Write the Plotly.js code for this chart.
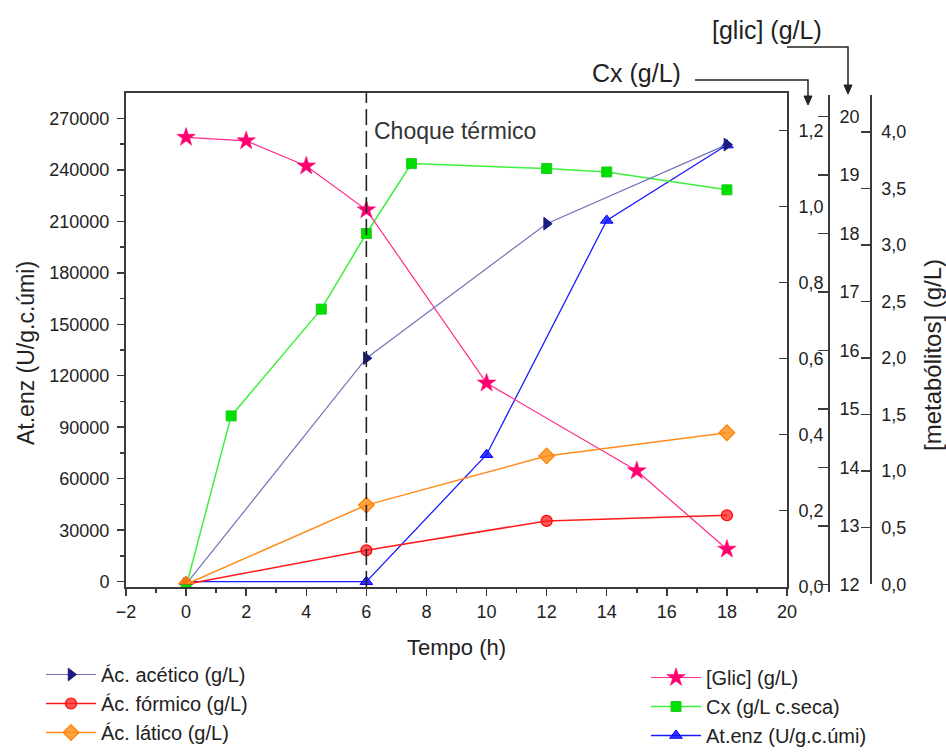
<!DOCTYPE html>
<html>
<head>
<meta charset="utf-8">
<script src="https://cdn.plot.ly/plotly-3.0.1.min.js"></script>
<style>html,body{margin:0;padding:0;background:#fff;overflow:hidden;}#chart{width:946px;height:753px;}</style>
</head>
<body>
<div id="chart"></div>
<script>
// ---------------- data ----------------
const tempoAcidos = [0, 6, 12, 18];
const acetico = [0, 2.0, 3.19, 3.89];
const formico = [0, 0.30, 0.56, 0.61];
const latico = [0, 0.70, 1.135, 1.34];

const tempoGlic = [0, 2, 4, 6, 10, 15, 18];
const glic = [19.64, 19.58, 19.15, 18.40, 15.44, 13.94, 12.60];

const tempoCx = [0, 1.5, 4.5, 6, 7.5, 12, 14, 18];
const cx = [0, 0.449, 0.730, 0.929, 1.113, 1.100, 1.091, 1.044];

const tempoEnz = [0, 6, 10, 14, 18];
const atEnz = [0, 0, 74000, 210500, 254400];

const enzTicks = [0, 30000, 60000, 90000, 120000, 150000, 180000, 210000, 240000, 270000];
const enzTickText = ["0", "30000", "60000", "90000", "120000", "150000", "180000", "210000", "240000", "270000"];
const cxTicks = [0, 0.2, 0.4, 0.6, 0.8, 1.0, 1.2];
const cxTickText = ["0,0", "0,2", "0,4", "0,6", "0,8", "1,0", "1,2"];
const glicTicks = [12, 13, 14, 15, 16, 17, 18, 19, 20];
const glicTickText = ["12", "13", "14", "15", "16", "17", "18", "19", "20"];
const metTicks = [0, 0.5, 1.0, 1.5, 2.0, 2.5, 3.0, 3.5, 4.0];
const metTickText = ["0,0", "0,5", "1,0", "1,5", "2,0", "2,5", "3,0", "3,5", "4,0"];
const xTicks = [-2, 0, 2, 4, 6, 8, 10, 12, 14, 16, 18, 20];

const choqueTempo = 6;

// ---------------- layout helpers ----------------
const W = 946, H = 753;
const px = x => x / W;
const py = y => 1 - y / H;
const P = (x, y) => px(x) + ',' + py(y);

const FONT = 'Liberation Sans, Arial, sans-serif';
const AX = '#3a3a3a';
const TXT = '#222';

const traces = [
  {x: tempoAcidos, y: acetico, name: 'Ác. acético (g/L)', yaxis: 'y4', type: 'scatter', mode: 'lines+markers',
   line: {color: '#7474b8', width: 1.2}, marker: {symbol: 'triangle-right', size: 11, color: '#1a1a80', line: {color: '#1a1a80', width: 1}},
   legend: 'legend'},
  {x: tempoAcidos, y: formico, name: 'Ác. fórmico (g/L)', yaxis: 'y4', type: 'scatter', mode: 'lines+markers',
   line: {color: '#ff1a1a', width: 1.5}, marker: {symbol: 'circle', size: 11, color: 'rgba(255,30,30,0.75)', line: {color: '#ff0000', width: 1.2}},
   legend: 'legend'},
  {x: tempoAcidos, y: latico, name: 'Ác. lático (g/L)', yaxis: 'y4', type: 'scatter', mode: 'lines+markers',
   line: {color: '#ff8c1a', width: 1.5}, marker: {symbol: 'diamond', size: 12, color: 'rgba(255,140,20,0.8)', line: {color: '#ff8000', width: 1.2}},
   legend: 'legend'},
  {x: tempoGlic, y: glic, name: '[Glic] (g/L)', yaxis: 'y3', type: 'scatter', mode: 'lines+markers',
   line: {color: '#ff2a8a', width: 1.2}, marker: {symbol: 'star', size: 14, color: '#ff0070', line: {color: '#ff0070', width: 0.5}},
   legend: 'legend2'},
  {x: tempoCx, y: cx, name: 'Cx (g/L c.seca)', yaxis: 'y2', type: 'scatter', mode: 'lines+markers',
   line: {color: '#3ef03e', width: 1.5}, marker: {symbol: 'square', size: 10, color: '#00e000', line: {color: '#22cc22', width: 1}},
   legend: 'legend2'},
  {x: tempoEnz, y: atEnz, name: 'At.enz (U/g.c.úmi)', yaxis: 'y', type: 'scatter', mode: 'lines+markers',
   line: {color: '#1a1aff', width: 1.3}, marker: {symbol: 'triangle-up', size: 11, color: 'rgba(20,20,255,0.85)', line: {color: '#0000ff', width: 1}},
   legend: 'legend2'}
];

const tickFont = {family: FONT, size: 18, color: TXT};

const layout = {
  width: W, height: H,
  margin: {l: 0, r: 0, t: 0, b: 0, autoexpand: false},
  paper_bgcolor: '#ffffff',
  plot_bgcolor: 'rgba(0,0,0,0)',
  font: {family: FONT, color: TXT},
  showlegend: true,
  xaxis: {
    domain: [px(126), px(787)], range: [-2, 20], anchor: 'y',
    tickvals: xTicks, ticks: 'outside', ticklen: 7, tickwidth: 1.5, tickcolor: AX,
    minor: {dtick: 1, tick0: 0, ticks: 'outside', ticklen: 4, tickwidth: 1.5, tickcolor: AX},
    showline: true, linecolor: AX, linewidth: 2, mirror: true,
    showgrid: false, zeroline: false, tickfont: tickFont
  },
  yaxis: {
    domain: [py(587), py(93)], range: [-3090, 284740], anchor: 'x', side: 'left',
    tickvals: enzTicks, ticktext: enzTickText, ticks: 'outside', ticklen: 7, tickwidth: 1.5, tickcolor: AX,
    minor: {dtick: 15000, tick0: 0, ticks: 'outside', ticklen: 4, tickwidth: 1.5, tickcolor: AX},
    showline: true, linecolor: AX, linewidth: 2,
    showgrid: false, zeroline: false, tickfont: tickFont, ticklabelstandoff: 4
  },
  yaxis2: {
    overlaying: 'y', side: 'right', anchor: 'x', range: [-0.0012, 1.2988],
    tickvals: cxTicks, ticktext: cxTickText, ticks: 'inside', ticklen: 8, tickwidth: 1.5, tickcolor: AX,
    showline: true, linecolor: AX, linewidth: 2,
    showgrid: false, zeroline: false, tickfont: tickFont, ticklabelstandoff: 6
  },
  yaxis3: {
    anchor: 'free', position: px(829), side: 'right', domain: [py(592), py(95)], range: [11.868, 20.364],
    tickvals: glicTicks, ticktext: glicTickText, ticks: 'inside', ticklen: 10, tickwidth: 1.5, tickcolor: AX,
    showline: true, linecolor: AX, linewidth: 2,
    showgrid: false, zeroline: false, tickfont: tickFont, ticklabelstandoff: 6
  },
  yaxis4: {
    anchor: 'free', position: px(870.7), side: 'right', domain: [py(584.3), py(95)], range: [-0.001, 4.329],
    tickvals: metTicks, ticktext: metTickText, ticks: 'inside', ticklen: 9, tickwidth: 1.5, tickcolor: AX,
    showline: true, linecolor: AX, linewidth: 2,
    showgrid: false, zeroline: false, tickfont: tickFont, ticklabelstandoff: 6
  },
  legend: {
    x: px(41), y: py(655), xanchor: 'left', yanchor: 'top', orientation: 'v',
    bgcolor: 'rgba(0,0,0,0)', borderwidth: 0, font: {family: FONT, size: 20, color: TXT},
    tracegroupgap: 0, itemwidth: 50
  },
  legend2: {
    x: px(646), y: py(658), xanchor: 'left', yanchor: 'top', orientation: 'v',
    bgcolor: 'rgba(0,0,0,0)', borderwidth: 0, font: {family: FONT, size: 20, color: TXT},
    tracegroupgap: 0, itemwidth: 50
  },
  shapes: [
    {type: 'line', xref: 'x', yref: 'paper', x0: choqueTempo, x1: choqueTempo, y0: py(587), y1: py(93),
     line: {color: '#222', width: 1.6, dash: '16px,6px'}},
    {type: 'path', xref: 'paper', yref: 'paper', path: 'M' + P(695, 80) + 'L' + P(808, 80) + 'L' + P(808, 97),
     line: {color: '#222', width: 1.5}},
    {type: 'path', xref: 'paper', yref: 'paper', path: 'M' + P(804, 96) + 'L' + P(812, 96) + 'L' + P(808, 105) + 'Z',
     line: {color: '#222', width: 1}, fillcolor: '#222'},
    {type: 'path', xref: 'paper', yref: 'paper', path: 'M' + P(787, 47) + 'L' + P(848, 47) + 'L' + P(848, 86),
     line: {color: '#222', width: 1.5}},
    {type: 'path', xref: 'paper', yref: 'paper', path: 'M' + P(844, 85) + 'L' + P(852, 85) + 'L' + P(848, 94) + 'Z',
     line: {color: '#222', width: 1}, fillcolor: '#222'}
  ],
  annotations: [
    {text: 'Tempo (h)', xref: 'paper', yref: 'paper', x: px(456), y: py(647), xanchor: 'center', yanchor: 'middle',
     showarrow: false, font: {family: FONT, size: 22, color: TXT}},
    {text: 'At.enz (U/g.c.úmi)', xref: 'paper', yref: 'paper', x: px(26), y: py(353), xanchor: 'center', yanchor: 'middle',
     textangle: -90, showarrow: false, font: {family: FONT, size: 23, color: TXT}},
    {text: '[metabólitos] (g/L)', xref: 'paper', yref: 'paper', x: px(932), y: py(355), xanchor: 'center', yanchor: 'middle',
     textangle: -90, showarrow: false, font: {family: FONT, size: 24, color: TXT}},
    {text: 'Choque térmico', xref: 'paper', yref: 'paper', x: px(372), y: py(131), xanchor: 'left', yanchor: 'middle',
     showarrow: false, font: {family: FONT, size: 23, color: '#333'}},
    {text: 'Cx (g/L)', xref: 'paper', yref: 'paper', x: px(636), y: py(73), xanchor: 'center', yanchor: 'middle',
     showarrow: false, font: {family: FONT, size: 25, color: TXT}},
    {text: '[glic] (g/L)', xref: 'paper', yref: 'paper', x: px(767), y: py(30), xanchor: 'center', yanchor: 'middle',
     showarrow: false, font: {family: FONT, size: 25, color: TXT}}
  ]
};

Plotly.newPlot('chart', traces, layout, {staticPlot: true, displayModeBar: false});
</script>
</body>
</html>
